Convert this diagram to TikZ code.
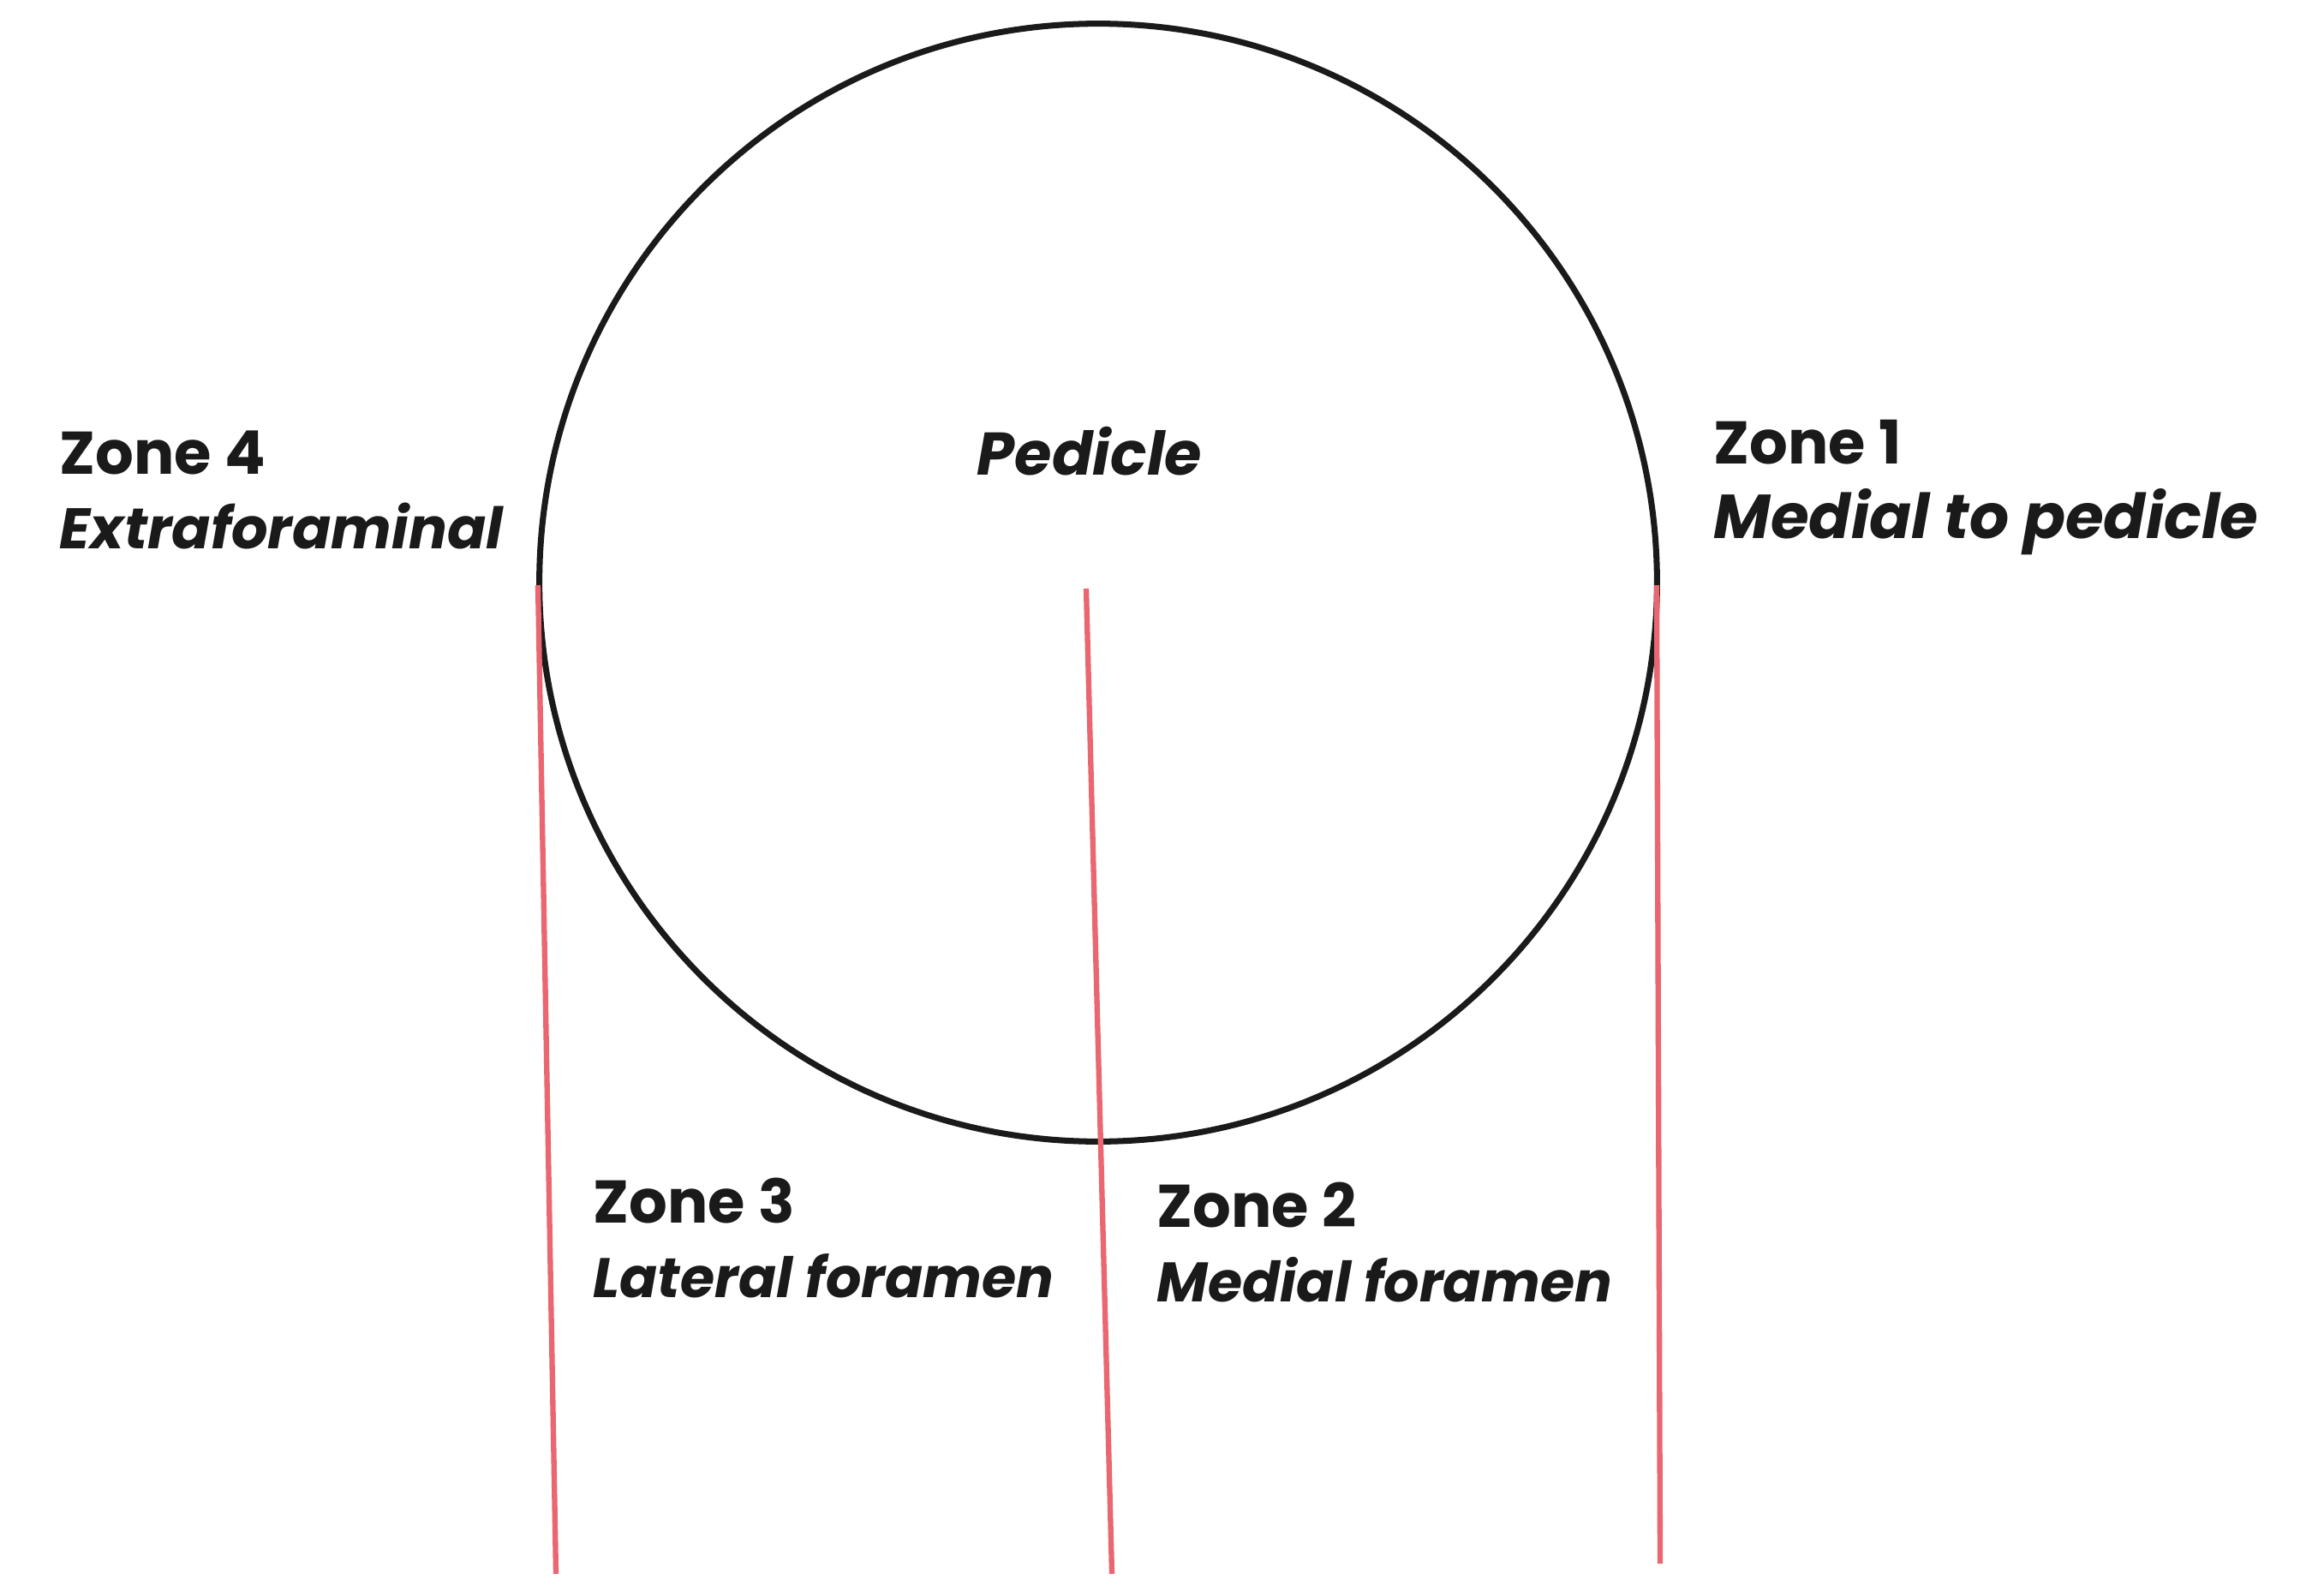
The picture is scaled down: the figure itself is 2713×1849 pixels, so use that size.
\documentclass[tikz,border=0pt]{standalone}
\usepackage{fontspec}
\setmainfont{Poppins}
\usepackage{tikz}
\usetikzlibrary{positioning}
\definecolor{ink}   {HTML}{1A1A1A}
\definecolor{cutred}{HTML}{EA6670}

\begin{document}
\begin{tikzpicture}[x=0.01cm, y=-0.01cm,
      zonelbl/.style={font=\fontsize{20}{24.6}\selectfont\bfseries, text=ink,
                      align=left, anchor=base west, inner sep=0pt},
      ring/.style={draw=ink, line width=2pt},
      cut/.style={draw=cutred, line width=1.8pt}]

    \useasboundingbox (0,0) rectangle (2713,1849);

    % pedicle outline
    \node[ring, circle, minimum size=13.04cm, inner sep=0pt] (ped) at (1282,680) {};
    \node[zonelbl, anchor=base] (pedlbl) at (1272,554) {\itshape Pedicle};

    % cut lines
    \coordinate (lt) at (628,683);   \coordinate (lb) at (649,1837);
    \coordinate (mt) at (1268,687);  \coordinate (mb) at (1298,1837);
    \coordinate (rt) at (1934,683);  \coordinate (rb) at (1938,1825);
    \draw[cut] (lt) -- (lb);
    \draw[cut] (mt) -- (mb);
    \draw[cut] (rt) -- (rb);

    % zone labels (base = baseline of the italic line)
    \node[zonelbl] (zfour)  at (69,640)   {Zone 4\\\fontsize{19}{24.6}\selectfont\itshape Extraforaminal};
    \node[zonelbl] (zone)   at (2000,628) {Zone 1\\\fontsize{20.6}{24.6}\selectfont\itshape Medial to pedicle};
    \node[zonelbl] (zthree) at (692,1514) {Zone 3\\\fontsize{18.5}{24.6}\selectfont\itshape Lateral foramen};
    \node[zonelbl] (ztwo)   at (1350,1519){Zone 2\\\fontsize{18.5}{24.6}\selectfont\itshape Medial foramen};
\end{tikzpicture}
\end{document}
